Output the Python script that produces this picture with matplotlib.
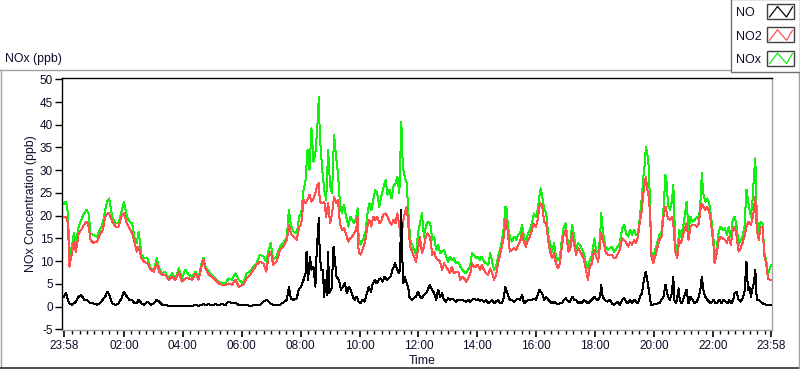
import matplotlib
matplotlib.use("Agg")
import matplotlib.pyplot as plt
from matplotlib.patches import Rectangle
from matplotlib.lines import Line2D

plt.rcParams['font.family'] = ['Liberation Sans', 'DejaVu Sans']

# ---------------- data (minutes after 23:58) ----------------
t_nox = [0, 4, 8, 11, 16, 20, 24, 30, 35, 41, 46, 50, 54, 60, 67, 73, 79, 84, 88, 92,
         98, 105, 111, 117, 122, 128, 133, 139, 143, 148, 152, 158, 163, 170, 177, 183, 189, 194, 200, 206,
         213, 220, 227, 234, 240, 247, 254, 261, 268, 274, 280, 284, 289, 295, 301, 308, 315, 322, 329, 335,
         342, 349, 356,
         365, 372, 379, 386, 392, 399, 406, 412, 417, 421, 426, 433, 440, 447, 454, 458, 462, 467, 474, 479,
         483, 488, 492, 496, 500, 504, 508, 512, 516, 519, 521, 526, 530, 534, 538, 542, 546, 550, 554, 558,
         562, 566, 570, 574, 579, 583, 587, 591, 595, 598, 600, 604, 610, 614, 618, 622, 626, 630, 634, 638,
         642, 646, 650, 655, 659, 663, 667, 671, 675, 679, 683, 687, 690, 694, 698, 701, 705, 709, 713, 717, 721,
         725, 729, 733, 737, 741, 746, 750, 754, 758, 762, 766, 770, 774, 778, 782, 786, 790, 794, 798, 803,
         807, 811, 815, 819, 823, 827, 831, 835, 839, 843, 847, 851, 855, 860, 864, 868, 872, 876, 880, 884,
         888, 892, 896, 899, 902, 904, 908, 912, 917, 921, 925, 929, 933, 937, 941, 945, 949, 953, 957, 961,
         965, 968, 971, 974, 978, 982, 986, 990, 994, 998, 1002, 1006, 1010, 1014, 1018, 1022, 1027, 1031, 1035, 1039,
         1043, 1047, 1051, 1055, 1059, 1063, 1067, 1071, 1075, 1080, 1084, 1088, 1092, 1094, 1099, 1103, 1107, 1112,
         1116, 1120, 1124, 1128, 1132, 1137, 1141, 1145, 1149, 1153, 1157, 1161, 1165, 1169, 1173, 1177, 1180, 1183,
         1185, 1188, 1191, 1194, 1196, 1200, 1204, 1209, 1213, 1217, 1221, 1225, 1228, 1230, 1234, 1238, 1241, 1245,
         1249, 1253, 1257, 1261, 1266, 1268, 1272, 1276, 1280, 1285, 1289, 1293, 1297, 1299, 1302, 1306, 1310, 1314,
         1318, 1323, 1325, 1329, 1333, 1337, 1342, 1346, 1350, 1354, 1358, 1362, 1366, 1370, 1374, 1378, 1382, 1386,
         1390, 1394, 1399, 1403, 1405, 1408, 1411, 1415, 1419, 1423, 1426, 1430, 1434, 1437, 1440]

nox = [22.7, 23.1, 20.5, 11.4, 13.2, 16.1, 14.0, 17.6, 19.1, 20.5, 21.3, 20.5, 16.1, 15.8, 15.4, 16.9, 18.3, 21.3, 23.1, 23.8,
       19.8, 18.3, 18.3, 20.9, 23.1, 19.8, 18.7, 18.3, 15.4, 14.0, 16.5, 11.4, 10.6, 10.6, 8.4, 8.1, 10.6, 8.4, 7.3, 7.7,
       6.2, 7.3, 6.2, 8.4, 6.2, 8.1, 7.0, 6.6, 7.7, 6.2, 9.5, 10.8, 8.4, 7.7, 7.0, 6.2, 5.5, 5.1, 5.1, 6.2,
       5.9, 7.3, 5.9,
       5.1, 7.3, 7.7, 8.8, 9.5, 11.4, 11.0, 9.9, 12.5, 14.0, 10.3, 11.0, 13.2, 14.0, 15.4, 21.3, 18.0, 16.5, 16.1, 19.8,
       20.5, 25.7, 27.9, 34.5, 30.1, 39.2, 31.9, 33.7, 39.6, 46.2, 37.4, 30.1, 25.7, 23.5, 34.5, 26.4, 24.9, 37.8, 33.0, 29.3,
       22.7, 20.5, 22.4, 20.2, 17.6, 19.8, 19.1, 18.3, 19.4, 21.6, 15.4, 13.6, 15.0, 16.5, 20.5, 22.7, 21.3, 23.5, 25.7, 24.9,
       22.0, 24.2, 26.0, 27.9, 24.6, 25.7, 23.8, 26.4, 27.1, 28.6, 24.9, 40.7, 30.8, 28.6, 27.1, 21.3, 14.7, 13.6, 12.5, 11.4, 16.1,
       18.3, 20.5, 15.4, 17.6, 18.7, 18.3, 14.7, 15.4, 12.5, 13.6, 11.7, 12.1, 12.5, 11.0, 9.9, 11.0, 10.3, 10.6, 9.5, 9.9,
       8.8, 8.1, 7.7, 7.3, 8.1, 8.8, 11.7, 11.4, 10.6, 11.0, 10.3, 11.0, 9.9, 9.5, 9.2, 11.7, 9.9, 8.1, 8.8, 11.0,
       12.5, 14.7, 17.6, 22.0, 21.3, 17.6, 15.4, 14.3, 15.4, 14.7, 15.8, 16.1, 18.0, 15.4, 14.3, 16.1, 16.9, 18.3, 20.5, 19.8,
       21.3, 24.2, 26.0, 24.2, 21.6, 20.5, 16.1, 14.0, 12.1, 14.0, 11.0, 10.3, 11.0, 14.7, 17.6, 18.3, 13.2, 14.0, 18.0, 15.4,
       12.5, 14.0, 13.6, 12.5, 11.7, 9.5, 8.4, 10.3, 11.0, 15.0, 12.1, 11.7, 15.4, 20.5, 15.4, 13.2, 12.5, 12.8,
       13.2, 12.1, 12.5, 13.2, 14.0, 17.2, 18.0, 16.1, 15.4, 16.9, 15.8, 16.9, 15.8, 16.1, 19.8, 24.2, 28.6, 31.5,
       35.2, 33.7, 30.8, 21.3, 12.1, 11.0, 12.5, 14.3, 15.8, 16.5, 21.6, 29.0, 26.8, 22.4, 21.3, 23.1, 26.8, 14.0,
       11.4, 16.9, 15.4, 17.6, 21.3, 23.1, 16.9, 19.8, 18.7, 19.1, 19.8, 19.1, 24.2, 29.3, 24.9, 23.1, 23.8, 22.7,
       19.8, 14.7, 10.6, 12.5, 16.1, 17.6, 16.9, 17.2, 15.8, 17.6, 15.4, 19.1, 19.8, 17.6, 13.6, 14.7, 15.4, 17.6,
       25.7, 22.7, 19.8, 24.2, 28.6, 32.6, 19.8, 16.1, 18.7, 18.3, 12.1, 10.3, 7.3, 8.1, 9.2]

no2 = [19.8, 19.8, 18.3, 8.8, 11.7, 14.3, 12.1, 16.1, 16.9, 18.0, 18.7, 17.6, 14.7, 14.0, 14.3, 15.8, 16.9, 19.8, 20.5, 20.5,
       18.7, 17.6, 17.6, 19.8, 20.5, 18.3, 17.2, 16.1, 14.3, 12.1, 13.2, 10.6, 9.9, 9.5, 8.1, 7.7, 9.5, 7.7, 7.0, 7.0,
       5.9, 6.6, 5.9, 7.7, 5.5, 6.2, 6.2, 5.9, 7.3, 5.9, 8.8, 10.3, 8.1, 7.0, 6.6, 5.9, 5.1, 4.8, 4.8, 5.1,
       4.8, 5.9, 4.4,
       4.8, 6.2, 7.0, 8.1, 9.2, 9.9, 9.5, 7.7, 11.4, 12.1, 9.2, 9.9, 12.5, 13.2, 14.7, 18.0, 16.1, 15.4, 14.7, 17.6,
       18.0, 23.5, 22.7, 23.5, 24.6, 23.1, 23.8, 24.9, 26.8, 27.1, 23.1, 22.7, 23.1, 19.8, 22.7, 18.3, 20.5, 24.2, 22.7, 23.5,
       18.3, 16.9, 17.2, 16.1, 14.3, 15.0, 15.4, 16.1, 16.9, 19.8, 12.1, 11.4, 13.2, 14.7, 17.6, 19.1, 17.6, 19.8, 19.1, 19.8,
       18.3, 18.7, 20.2, 20.5, 19.8, 18.7, 18.0, 19.1, 18.3, 20.5, 17.6, 14.0, 18.3, 20.5, 22.0, 18.3, 13.2, 12.1, 11.0, 9.9, 12.5,
       15.4, 11.7, 13.2, 15.4, 16.1, 15.0, 11.4, 12.1, 10.6, 10.3, 9.9, 8.1, 9.5, 8.8, 8.1, 7.3, 8.8, 7.3, 7.7, 7.7,
       5.9, 6.6, 6.2, 5.5, 6.2, 7.0, 9.5, 8.8, 8.8, 9.2, 8.1, 9.2, 8.1, 7.3, 7.0, 8.4, 7.3, 5.9, 7.0, 9.5,
       11.4, 13.2, 15.4, 19.1, 18.3, 16.1, 12.1, 12.5, 12.8, 12.5, 13.6, 14.3, 16.1, 14.0, 13.2, 14.7, 15.4, 16.9, 18.3, 17.6,
       19.1, 22.0, 22.7, 22.0, 18.7, 18.3, 14.7, 12.1, 10.6, 11.7, 9.5, 8.4, 9.5, 13.2, 16.1, 16.9, 12.1, 12.5, 16.1, 13.6,
       11.4, 12.8, 12.1, 11.4, 10.3, 8.1, 5.9, 8.8, 9.5, 12.5, 11.0, 9.9, 14.0, 16.1, 14.0, 12.1, 11.4, 11.4,
       11.4, 10.6, 10.6, 11.7, 12.5, 15.0, 14.7, 14.0, 13.2, 14.3, 13.6, 14.7, 14.0, 15.4, 18.7, 21.3, 24.9, 27.1,
       28.6, 25.7, 24.2, 19.8, 11.4, 9.5, 11.0, 13.2, 14.7, 15.4, 19.8, 22.0, 20.5, 19.4, 19.1, 19.8, 18.3, 12.1,
       10.6, 14.7, 14.0, 15.8, 17.6, 18.3, 14.7, 17.6, 18.0, 18.0, 17.6, 18.3, 22.0, 22.7, 22.0, 21.3, 22.0, 20.9,
       18.3, 13.2, 9.5, 11.4, 14.3, 15.4, 15.0, 14.7, 14.0, 15.4, 13.6, 16.9, 17.6, 15.4, 12.1, 12.8, 14.0, 15.4,
       17.6, 18.7, 18.0, 19.8, 21.3, 24.2, 16.9, 14.7, 17.6, 17.6, 11.4, 9.5, 6.2, 5.9, 5.9]

t_no = [0, 4, 8, 11, 16, 20, 24, 30, 35, 41, 46, 50, 54, 60, 67, 73, 79, 84, 88, 92,
        98, 105, 111, 117, 122, 128, 133, 139, 143, 148, 152, 158, 163, 170, 177, 183, 189, 194, 200, 206,
        213, 220, 227, 234, 240, 247, 254, 261, 268, 274, 280, 284, 289, 295, 301, 308, 315, 322, 329, 335,
        342, 349, 356,
        359, 379, 399, 406, 413, 420, 426, 440, 454, 458, 462, 467, 474, 478, 483, 488, 492, 494, 497, 501,
        504, 508, 512, 515, 517, 519, 521, 524, 527, 530, 532, 535, 538, 540, 545, 549, 551, 555, 560, 564,
        568, 572, 576, 580, 584, 588, 592, 596, 600, 604, 608, 612, 617, 621, 625, 629, 633, 637, 641, 645,
        649, 653, 657, 661, 665, 669, 674, 678, 682, 684, 687, 688, 691, 694, 698, 701, 703, 708, 712, 717, 721,
        725, 729, 733, 737, 741, 745, 750, 754, 758, 762, 766, 770, 774, 778, 782, 786, 790, 794, 798, 802,
        807, 811, 815, 819, 823, 827, 831, 835, 839, 843, 847, 851, 855, 860, 864, 868, 872, 876, 880, 884,
        888, 892, 896, 899, 902, 904, 908, 912, 917, 921, 925, 929, 933, 937, 941, 945, 949, 953, 957, 961,
        965, 968, 971, 974, 978, 982, 986, 990, 994, 998, 1002, 1006, 1010, 1014, 1018, 1022, 1027, 1031, 1035, 1039,
        1043, 1047, 1051, 1055, 1059, 1063, 1067, 1071, 1075, 1080, 1084, 1088, 1092, 1094, 1097, 1101, 1107, 1112,
        1116, 1120, 1124, 1128, 1132, 1137, 1141, 1145, 1149, 1153, 1157, 1161, 1165, 1169, 1173, 1177, 1180, 1183,
        1185, 1188, 1191, 1194, 1196, 1200, 1204, 1209, 1213, 1217, 1221, 1225, 1228, 1230, 1234, 1238, 1241, 1243,
        1247, 1252, 1254, 1258, 1261, 1265, 1268, 1272, 1276, 1280, 1284, 1289, 1293, 1297, 1299, 1302, 1306, 1310,
        1314, 1318, 1323, 1327, 1331, 1335, 1339, 1343, 1347, 1351, 1355, 1359, 1363, 1366, 1370, 1374, 1378, 1382,
        1386, 1390, 1393, 1396, 1399, 1403, 1405, 1408, 1411, 1415, 1419, 1423, 1426, 1430, 1434, 1437, 1440]

no = [2.2, 3.0, 1.5, 0.7, 0.4, 0.7, 1.1, 2.2, 2.6, 1.5, 1.5, 1.1, 0.7, 0.7, 0.4, 0.7, 1.5, 2.2, 3.3, 2.6,
      0.7, 0.4, 0.7, 1.8, 3.3, 2.2, 1.5, 1.5, 0.7, 0.7, 1.5, 0.7, 0.4, 1.1, 0.4, 0.7, 1.5, 1.1, 0.4, 0.4,
      0.2, 0.2, 0.2, 0.2, 0.1, 0.2, 0.1, 0.2, 0.3, 0.2, 0.4, 0.5, 0.4, 0.5, 0.3, 0.5, 0.4, 0.5, 0.4, 1.1,
      0.7, 0.9, 0.3,
      0.4, 0.2, 0.4, 1.1, 1.5, 0.7, 0.4, 0.4, 1.5, 4.4, 1.8, 1.5, 1.8, 3.7, 4.4, 5.9, 7.3, 12.1, 5.9, 11.0,
      8.1, 8.8, 4.4, 13.2, 16.1, 19.4, 11.0, 8.1, 8.1, 2.2, 5.9, 2.6, 12.1, 2.9, 4.0, 13.2, 11.0, 6.6, 5.9, 3.7,
      4.4, 5.1, 2.9, 4.4, 3.7, 2.2, 1.5, 2.2, 1.1, 0.7, 1.5, 1.1, 2.9, 4.4, 3.3, 5.1, 5.9, 5.1, 5.9, 6.2,
      5.5, 6.6, 5.9, 6.2, 6.6, 8.1, 9.5, 8.4, 7.3, 8.1, 21.3, 13.9, 5.1, 6.6, 5.1, 4.4, 2.2, 1.5, 1.8, 2.2, 3.3,
      2.2, 1.8, 2.6, 2.9, 3.7, 4.8, 3.7, 2.9, 1.5, 3.7, 2.2, 2.9, 1.5, 1.1, 1.8, 1.5, 1.8, 1.5, 1.1, 1.5,
      1.5, 1.5, 1.3, 1.1, 1.5, 1.1, 1.5, 1.8, 1.5, 1.6, 1.3, 1.5, 1.1, 1.5, 0.7, 1.1, 1.5, 0.7, 1.1, 1.5,
      0.7, 0.7, 2.2, 4.3, 3.3, 2.6, 1.5, 1.5, 1.1, 1.5, 1.8, 1.5, 2.6, 0.7, 1.1, 1.5, 1.5, 1.5, 1.8, 1.5,
      2.6, 3.7, 3.3, 2.9, 1.5, 2.2, 1.5, 1.1, 0.7, 1.1, 0.7, 0.6, 0.7, 0.7, 1.5, 1.8, 1.1, 1.1, 2.2, 1.5,
      1.5, 0.7, 1.1, 0.7, 1.5, 1.1, 0.7, 1.1, 1.5, 2.2, 1.6, 1.5, 2.2, 4.8, 2.2, 1.5, 1.1, 1.5,
      0.7, 0.4, 0.7, 1.1, 0.4, 1.5, 1.8, 1.1, 0.7, 1.5, 0.7, 1.5, 1.1, 0.7, 2.2, 2.9, 5.1, 6.9,
      7.7, 5.9, 3.7, 1.5, 0.4, 0.4, 0.6, 0.7, 0.7, 1.5, 2.2, 4.8, 3.3, 2.2, 1.5, 2.9, 6.6, 1.5,
      0.7, 4.0, 1.5, 0.7, 1.5, 2.9, 3.7, 0.7, 2.2, 1.5, 0.7, 1.1, 2.2, 4.4, 6.6, 3.7, 2.2, 1.5,
      1.1, 0.7, 1.5, 0.7, 0.9, 1.5, 0.7, 1.5, 1.1, 0.7, 1.5, 0.7, 1.5, 3.0, 3.3, 1.5, 1.1, 1.8,
      3.3, 9.9, 3.7, 4.4, 2.2, 4.4, 5.1, 8.1, 1.5, 1.5, 1.1, 0.7, 0.6, 0.4, 0.4, 0.4, 0.4]

major_ticks = [0, 122, 242, 362, 482, 602, 722, 842, 962, 1082, 1202, 1322, 1440]
major_labels = ["23:58", "02:00", "04:00", "06:00", "08:00", "10:00", "12:00",
                "14:00", "16:00", "18:00", "20:00", "22:00", "23:58"]
y_ticks = [-5, 0, 5, 10, 15, 20, 25, 30, 35, 40, 45, 50]
series_names = ["NO", "NO2", "NOx"]

# ---------------- figure ----------------
W, H = 800, 369
fig = plt.figure(figsize=(W / 100, H / 100), dpi=100)
fig.patch.set_facecolor('white')

L, R, T, B = 62, 772, 78, 330
ax = fig.add_axes([L / W, 1 - B / H, (R - L) / W, (B - T) / H])
ax.set_facecolor('white')

c_no, c_no2, c_nox = '#000000', '#ff4f4f', '#13ef13'
lw = 0.72
ax.plot(t_nox, nox, color=c_nox, lw=lw, antialiased=False, zorder=2)
ax.plot(t_nox, no2, color=c_no2, lw=lw, antialiased=False, zorder=3)
ax.plot(t_no, no, color=c_no, lw=lw, antialiased=False, zorder=4)

ax.set_xlim(-4.1, 1442)
ax.set_ylim(-5.15, 50.29)

ax.set_xticks(major_ticks)
ax.set_xticklabels(major_labels)
minor = [2 + 15 * k for k in range(1, 96) if (15 * k) % 120 != 0]
ax.set_xticks(minor, minor=True)
ax.set_yticks(y_ticks)
ax.set_yticklabels([str(v) for v in y_ticks])

tc = '#0c0c28'
ax.tick_params(axis='x', which='major', direction='out', length=5, width=1.2, color='black',
               labelsize=8.5, labelcolor=tc, pad=2.5)
ax.tick_params(axis='x', which='minor', direction='out', length=3, width=1.0, color='black')
ax.tick_params(axis='y', which='major', direction='out', length=5, width=1.0, color='black',
               labelsize=8.5, labelcolor=tc, pad=1.5)

for s in ['top', 'left']:
    ax.spines[s].set_color('black')
    ax.spines[s].set_linewidth(1.0)
for s in ['right', 'bottom']:
    ax.spines[s].set_color('#a0a0a0')
    ax.spines[s].set_linewidth(1.0)

fig.text(31 / W, 1 - 204 / H, "NOx Concentration (ppb)", rotation=90, ha='center', va='center',
         fontsize=8.8, color=tc)
fig.text(422 / W, 1 - 361 / H, "Time", ha='center', va='center', fontsize=8.8, color=tc)
fig.text(5 / W, 1 - 59 / H, "NOx (ppb)", ha='left', va='center', fontsize=8.8, color=tc)

# ---------------- frame and legend (pixel overlay) ----------------
ov = fig.add_axes([0, 0, 1, 1], facecolor='none')
ov.set_xlim(0, W)
ov.set_ylim(H, 0)
ov.axis('off')

ov.add_line(Line2D([0, 730], [69.5, 69.5], color='#a0a0a0', lw=1.0))
ov.add_line(Line2D([0.5, 0.5], [69.5, 368], color='#a0a0a0', lw=1.0))
ov.add_line(Line2D([0, 800], [368, 368], color='#303030', lw=1.2))
ov.add_line(Line2D([799, 799], [69.5, 368], color='#a0a0a0', lw=1.0))

ov.add_patch(Rectangle((730.5, -1), 69, 73, facecolor='white', edgecolor='#707070', lw=1.0, zorder=5))
colors = [c_no, c_no2, c_nox]
for i, (name, c) in enumerate(zip(series_names, colors)):
    dy = i * 23.3
    ov.text(736, 13.3 + dy, name, ha='left', va='center', fontsize=9, color=tc, zorder=6)
    ov.add_patch(Rectangle((767, 4 + dy), 27, 15, facecolor='white', edgecolor='#404040', lw=1.0, zorder=6))
    ov.add_line(Line2D([769.5, 777.5, 786.5, 792.5], [17 + dy, 6.5 + dy, 17 + dy, 7 + dy],
                       color=c, lw=0.9, zorder=7))

fig.savefig("out.png", dpi=100, facecolor='white')
